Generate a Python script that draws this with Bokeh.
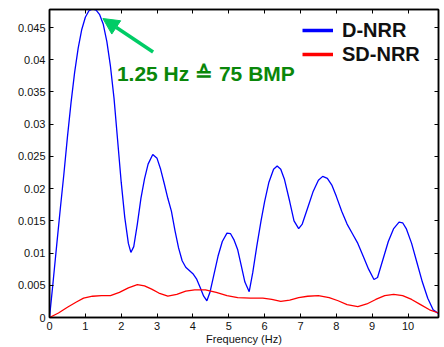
from bokeh.plotting import figure
from bokeh.models import (Range1d, LinearAxis, FixedTicker, Legend, LegendItem,
                          Arrow, NormalHead, Label, ColumnDataSource, CustomJSTickFormatter)
from bokeh.embed import file_html
from bokeh.resources import INLINE

# ---- data ----
freq_dnrr = [0.00, 0.10, 0.20, 0.30, 0.40, 0.50, 0.60, 0.70, 0.80, 0.90, 1.00, 1.10,
             1.20, 1.30, 1.40, 1.50, 1.60, 1.70, 1.80, 1.90, 2.00, 2.10, 2.20, 2.27,
             2.35, 2.45, 2.55, 2.65, 2.75, 2.88, 3.00, 3.10, 3.20, 3.30, 3.40, 3.50,
             3.60, 3.70, 3.80, 3.90, 4.00, 4.10, 4.20, 4.30, 4.39, 4.48, 4.58, 4.70,
             4.82, 4.95, 5.05, 5.15, 5.25, 5.35, 5.45, 5.57, 5.67, 5.78, 5.90, 6.00,
             6.12, 6.25, 6.35, 6.45, 6.55, 6.70, 6.82, 6.95, 7.05, 7.20, 7.35, 7.50,
             7.62, 7.75, 7.88, 8.00, 8.15, 8.30, 8.45, 8.60, 8.75, 8.90, 9.05, 9.15,
             9.30, 9.45, 9.60, 9.75, 9.85, 9.95, 10.10, 10.25, 10.40, 10.55, 10.70, 10.85]
dnrr = [0.0000, 0.0055, 0.0112, 0.0168, 0.0222, 0.0280, 0.0333, 0.0380, 0.0418, 0.0447,
        0.0466, 0.0476, 0.0479, 0.0477, 0.0470, 0.0455, 0.0428, 0.0390, 0.0340, 0.0275,
        0.0210, 0.0155, 0.0115, 0.0101, 0.0110, 0.0145, 0.0185, 0.0215, 0.0238, 0.0253,
        0.0247, 0.0230, 0.0208, 0.0185, 0.0165, 0.0135, 0.0108, 0.0088, 0.0078, 0.0073,
        0.0068, 0.0060, 0.0047, 0.0033, 0.0026, 0.0040, 0.0065, 0.0095, 0.0118, 0.0131,
        0.0130, 0.0120, 0.0105, 0.0080, 0.0055, 0.0040, 0.0070, 0.0110, 0.0150, 0.0180,
        0.0210, 0.0230, 0.0235, 0.0230, 0.0215, 0.0180, 0.0150, 0.0138, 0.0145, 0.0170,
        0.0195, 0.0213, 0.0219, 0.0216, 0.0205, 0.0188, 0.0165, 0.0145, 0.0130, 0.0115,
        0.0095, 0.0075, 0.0059, 0.0062, 0.0090, 0.0118, 0.0138, 0.0148, 0.0147, 0.0138,
        0.0115, 0.0085, 0.0055, 0.0030, 0.0012, 0.0006]

freq_sdnrr = [0.00, 0.25, 0.50, 0.75, 0.95, 1.20, 1.45, 1.70, 1.95, 2.20, 2.45, 2.65,
              2.85, 3.05, 3.30, 3.55, 3.80, 4.05, 4.35, 4.65, 4.95, 5.25, 5.60, 5.95,
              6.20, 6.45, 6.70, 6.95, 7.20, 7.50, 7.80, 8.05, 8.30, 8.60, 8.85, 9.10,
              9.35, 9.60, 9.85, 10.10, 10.35, 10.60, 10.85]
sdnrr = [0.0000, 0.0007, 0.0016, 0.0024, 0.0030, 0.0033, 0.0034, 0.0034, 0.0039, 0.0046,
         0.0051, 0.0049, 0.0044, 0.0038, 0.0033, 0.0036, 0.0041, 0.0043, 0.0043, 0.0039,
         0.0034, 0.0031, 0.0030, 0.0030, 0.0028, 0.0025, 0.0027, 0.0031, 0.0033, 0.0034,
         0.0031, 0.0026, 0.0020, 0.0017, 0.0021, 0.0028, 0.0034, 0.0036, 0.0034, 0.0028,
         0.0020, 0.0012, 0.0007]

x_ticks = [0, 1, 2, 3, 4, 5, 6, 7, 8, 9, 10]
y_ticks = [0, 0.005, 0.01, 0.015, 0.02, 0.025, 0.03, 0.035, 0.04, 0.045]
y_tick_labels = ["0", "0.005", "0.01", "0.015", "0.02", "0.025", "0.03", "0.035", "0.04", "0.045"]
series_names = ["D-NRR", "SD-NRR"]
annotation_text = "1.25 Hz \u2259 75 BMP"

FONT = "Liberation Sans"

p = figure(width=444, height=347, output_backend="svg", toolbar_location=None,
           x_range=Range1d(0, 10.85), y_range=Range1d(0, 0.0478),
           min_border_left=49, min_border_right=6, min_border_top=9, min_border_bottom=30,
           x_axis_location=None, y_axis_location=None)
p.xgrid.visible = False
p.ygrid.visible = False
p.outline_line_color = "black"
p.outline_line_width = 1.5
p.background_fill_color = "white"
p.border_fill_color = "white"


def style_axis(ax, labels=True):
    ax.axis_line_color = "black"
    ax.axis_line_width = 1.5
    ax.major_tick_in = 4
    ax.major_tick_out = 0
    ax.major_tick_line_color = "black"
    ax.minor_tick_in = 0
    ax.minor_tick_out = 0
    if labels:
        ax.major_label_text_font = FONT
        ax.major_label_text_font_size = "11px"
        ax.major_label_text_color = "#111111"
    else:
        ax.formatter = CustomJSTickFormatter(code="return '';")
        ax.major_label_text_font_size = "1px"
        ax.major_label_standoff = 0


xb = LinearAxis(ticker=FixedTicker(ticks=x_ticks), axis_label="Frequency (Hz)")
style_axis(xb)
xb.major_label_standoff = 4
xb.axis_label_standoff = 0
xb.axis_label_text_font = FONT
xb.axis_label_text_font_style = "normal"
xb.axis_label_text_font_size = "11px"
xb.axis_label_text_color = "#111111"
p.add_layout(xb, "below")

yl = LinearAxis(ticker=FixedTicker(ticks=y_ticks))
yl.major_label_overrides = {t: l for t, l in zip(y_ticks, y_tick_labels)}
style_axis(yl)
yl.major_label_standoff = 4
p.add_layout(yl, "left")

xt = LinearAxis(ticker=FixedTicker(ticks=x_ticks))
style_axis(xt, labels=False)
p.add_layout(xt, "above")

yr = LinearAxis(ticker=FixedTicker(ticks=y_ticks))
style_axis(yr, labels=False)
p.add_layout(yr, "right")

src_d = ColumnDataSource(dict(x=freq_dnrr, y=dnrr))
src_s = ColumnDataSource(dict(x=freq_sdnrr, y=sdnrr))
p.line("x", "y", source=src_d, line_color="#0000FF", line_width=1.3)
p.line("x", "y", source=src_s, line_color="#FF0000", line_width=1.3)

# legend key renderers (thicker keys, nothing drawn in the plot)
nan = float("nan")
leg_d = p.line(x=[nan], y=[nan], line_color="#0000FF", line_width=3.5)
leg_s = p.line(x=[nan], y=[nan], line_color="#FF0000", line_width=3.5)

legend = Legend(items=[LegendItem(label=series_names[0], renderers=[leg_d]),
                       LegendItem(label=series_names[1], renderers=[leg_s])],
                location=(253, 251), orientation="vertical")
legend.label_text_font = FONT
legend.label_text_font_style = "bold"
legend.label_text_font_size = "20px"
legend.label_text_color = "#111111"
legend.glyph_width = 31
legend.glyph_height = 24
legend.label_height = 24
legend.label_standoff = 9
legend.spacing = 0
legend.padding = 0
legend.margin = 0
legend.border_line_alpha = 0
legend.background_fill_alpha = 0
p.add_layout(legend)

arrow = Arrow(x_start=2.89, y_start=0.0412, x_end=1.49, y_end=0.0464,
              line_color="#00CC66", line_width=3.5,
              end=NormalHead(size=16, fill_color="#00CC66", line_color="#00CC66"))
p.add_layout(arrow)

lab = Label(x=1.88, y=0.0379, text=annotation_text, text_font=FONT,
            text_font_style="bold", text_font_size="21px", text_color="#0A870A",
            text_baseline="middle", text_align="left")
p.add_layout(lab)

open("out.html", "w").write(file_html(p, INLINE))
